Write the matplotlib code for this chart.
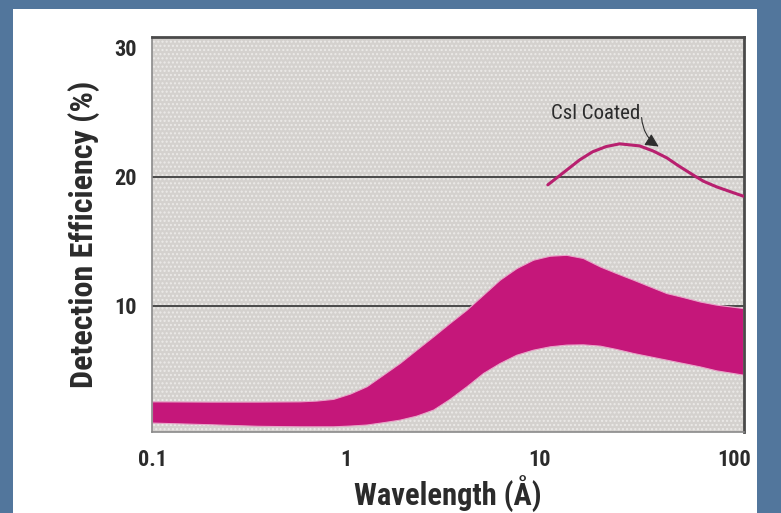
import numpy as np
import matplotlib
matplotlib.use('Agg')
import matplotlib.pyplot as plt
from matplotlib.patches import Rectangle

# detection efficiency band (uncoated), upper and lower edge
band_x = [0.1, 0.2, 0.35, 0.579, 0.706, 0.86, 1.049, 1.278, 1.556, 1.897, 2.31, 2.82, 3.43,
          4.19, 5.10, 6.22, 7.58, 9.24, 11.27, 13.7, 16.7, 20.4, 24.8, 30.3, 36.9, 45.0,
          54.8, 66.8, 81.5, 111.7]
band_hi = [2.58, 2.56, 2.56, 2.58, 2.64, 2.77, 3.18, 3.75, 4.65, 5.56, 6.59, 7.62, 8.66,
           9.69, 10.85, 12.02, 12.92, 13.57, 13.88, 13.95, 13.70, 13.05, 12.53, 12.02, 11.50,
           10.98, 10.67, 10.33, 10.08, 9.82]
band_lo = [0.93, 0.80, 0.68, 0.64, 0.64, 0.64, 0.70, 0.78, 0.96, 1.16, 1.47, 1.94, 2.77,
           3.75, 4.78, 5.56, 6.20, 6.59, 6.85, 6.98, 7.00, 6.90, 6.64, 6.33, 6.07, 5.81,
           5.55, 5.29, 4.98, 4.65]

# CsI coated curve
csi_x = [11.0, 12.3, 13.8, 16.0, 18.7, 22.0, 25.8, 32.7, 38.5, 45.2, 52.0, 61.5, 70.0, 81.7, 96.0, 112]
csi_y = [19.38, 19.95, 20.54, 21.30, 21.94, 22.35, 22.56, 22.40, 22.00, 21.47, 20.85, 20.16,
         19.65, 19.22, 18.85, 18.5]

xticks = [0.1, 1, 10, 100]
xtick_labels = ['0.1', '1', '10', '100']
yticks = [10, 20, 30]

narrow = ['Roboto Condensed', 'Liberation Sans Narrow', 'Liberation Sans', 'DejaVu Sans']
text_col = '#2b2b2b'
magenta = '#c5177a'

fig = plt.figure(figsize=(7.81, 5.13), dpi=100)
fig.patch.set_facecolor('#52769c')
fig.patches.append(Rectangle((13 / 781, 0), (757 - 13) / 781, 1 - 9 / 513,
                             transform=fig.transFigure, facecolor='white',
                             edgecolor='none', zorder=-10))

ax = fig.add_axes([152 / 781, 1 - 432 / 513, (744 - 152) / 781, (432 - 37) / 513])
ax.set_xscale('log')
ax.set_xlim(0.1, 113)
ax.set_ylim(0.2, 30.85)

# dotted screen background
ax.set_facecolor('#d4d1ce')
ax.add_patch(Rectangle((0, 0), 1, 1, transform=ax.transAxes, facecolor='none',
                       edgecolor='#eceae8', hatch='....', linewidth=0, zorder=0))

for g in [10, 20]:
    ax.axhline(g, color='#4a4a4a', lw=1.4, zorder=1)

ax.fill_between(band_x, band_lo, band_hi, color=magenta, lw=0.8,
                edgecolor='#e7a6c8', zorder=2)
ax.plot(csi_x, csi_y, color='#b8206f', lw=2.2, zorder=3, solid_capstyle='round')

# label and pointer for the coated curve
ax.text(19.4, 24.95, 'Csl Coated', ha='center', va='center', fontsize=15,
        family=narrow, color=text_col, zorder=4)
ax.annotate('', xy=(41.0, 22.35), xytext=(33.5, 24.6),
            arrowprops=dict(arrowstyle='-|>', color='#2e2e2e', lw=0.8,
                            shrinkA=0, shrinkB=0, mutation_scale=20,
                            connectionstyle='arc3,rad=0.25'), zorder=4)

ax.set_xticks(xticks)
ax.set_xticklabels(xtick_labels)
ax.minorticks_off()
ax.set_yticks(yticks)
ax.tick_params(length=0, labelsize=16, colors=text_col)
ax.tick_params(axis='x', pad=12)
ax.tick_params(axis='y', pad=11)
for lab in ax.get_xticklabels() + ax.get_yticklabels():
    lab.set_family(narrow)
    lab.set_fontweight('bold')

for side in ['left', 'bottom']:
    ax.spines[side].set_color('#8a8a8a')
    ax.spines[side].set_linewidth(1.2)
for side in ['top', 'right']:
    ax.spines[side].set_color('#4a4a4a')
    ax.spines[side].set_linewidth(2)

ax.set_xlabel('Wavelength (Å)', fontsize=22, fontweight='bold', family=narrow,
              color=text_col, labelpad=4)
ax.set_ylabel('Detection Efficiency (%)', fontsize=23, fontweight='bold',
              family=narrow, color=text_col, labelpad=10)

fig.savefig('out.png', dpi=100, facecolor=fig.get_facecolor())
